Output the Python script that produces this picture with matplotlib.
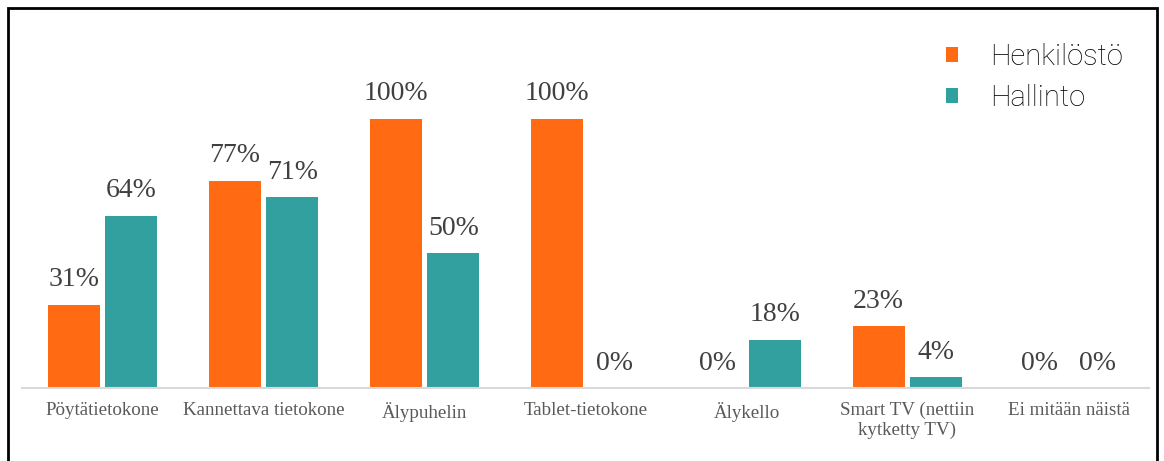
import numpy as np
import matplotlib
matplotlib.use('Agg')
import matplotlib.pyplot as plt
from matplotlib.patches import Rectangle

categories = ['Pöytätietokone', 'Kannettava tietokone', 'Älypuhelin', 'Tablet-tietokone',
              'Älykello', 'Smart TV (nettiin\nkytketty TV)', 'Ei mitään näistä']
henkilosto = [31, 77, 100, 100, 0, 23, 0]
hallinto = [64, 71, 50, 0, 18, 4, 0]
series_names = ['Henkilöstö', 'Hallinto']

W, H = 1164, 461
fig = plt.figure(figsize=(W/100, H/100), dpi=100)
ax = fig.add_axes([22/W, (H-388)/H, 1127/W, 368/H])

x = np.arange(len(categories))
bw = 0.323
off = 0.179
b1 = ax.bar(x - off, henkilosto, bw, color='#FF6A13', label=series_names[0])
b2 = ax.bar(x + off, hallinto, bw, color='#33A0A0', label=series_names[1])

for bars, vals in [(b1, henkilosto), (b2, hallinto)]:
    for b, v in zip(bars, vals):
        ax.annotate(f'{v}%', (b.get_x() + b.get_width()/2, v), xytext=(0, 9),
                    textcoords='offset points', ha='center', va='bottom',
                    family='Liberation Serif', fontsize=20, color='#404040')

ax.set_xlim(-0.5, len(categories) - 0.5)
ax.set_ylim(0, 368/269*100)
ax.set_xticks(x)
ax.set_xticklabels(categories, family='Liberation Serif', fontsize=13.7, color='#595959')
ax.tick_params(axis='x', length=0, pad=10)
ax.set_yticks([])
for s in ['top', 'right', 'left']:
    ax.spines[s].set_visible(False)
ax.spines['bottom'].set_color('#d9d9d9')
ax.spines['bottom'].set_linewidth(1.5)

leg = ax.legend(loc='upper right', bbox_to_anchor=(1123/W, (H-43)/H), bbox_transform=fig.transFigure,
                frameon=False, borderaxespad=0, borderpad=0,
                prop={'family': 'Roboto', 'size': 21, 'weight': 'light'}, handlelength=0.4, handleheight=0.4,
                handletextpad=1.1, labelspacing=0.45, labelcolor='#000000')

fig.patches.append(Rectangle((8/W, -0.01), 1149/W, (H-8)/H + 0.01, transform=fig.transFigure,
                             fill=False, edgecolor='black', linewidth=2))

fig.savefig('out.png', dpi=100)
